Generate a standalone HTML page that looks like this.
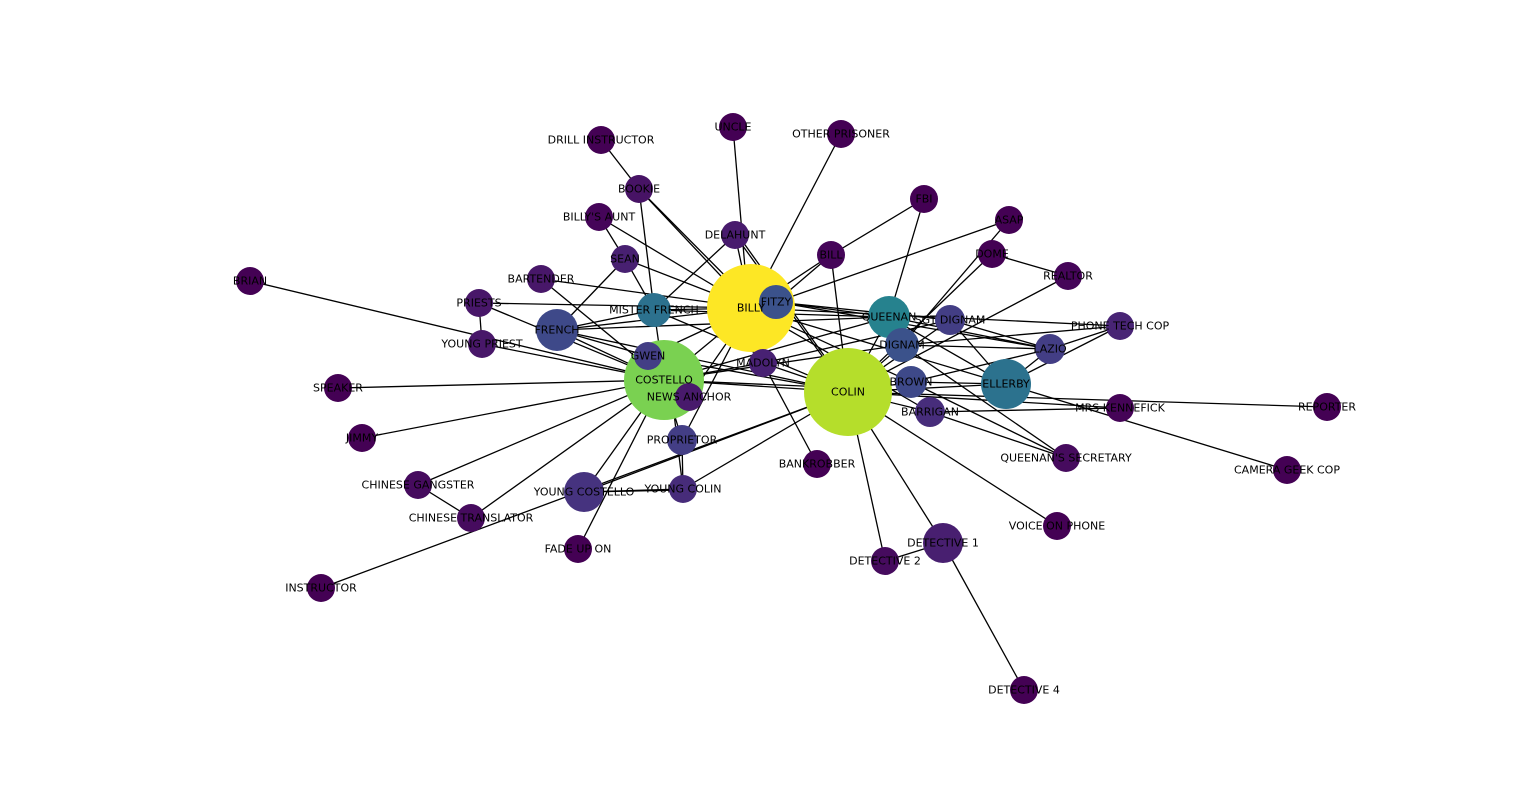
<!DOCTYPE html>
<html><head><meta charset="utf-8"><style>
html,body{margin:0;padding:0;background:#fff;width:1540px;height:811px;overflow:hidden}
text{font-family:"DejaVu Sans","Liberation Sans",sans-serif;font-size:11px;fill:#000;text-anchor:middle;dominant-baseline:central}
line{stroke:#000;stroke-width:1.3}
</style></head><body>
<svg width="1540" height="811" viewBox="0 0 1540 811" xmlns="http://www.w3.org/2000/svg">
<g>
<line x1="733" y1="127" x2="745" y2="268"/>
<line x1="841" y1="134" x2="770" y2="270"/>
<line x1="601" y1="140" x2="639" y2="189"/>
<line x1="639" y1="189" x2="751" y2="308"/>
<line x1="639" y1="189" x2="755" y2="306"/>
<line x1="639" y1="189" x2="654" y2="310"/>
<line x1="599" y1="217" x2="625" y2="259"/>
<line x1="599" y1="217" x2="751" y2="308"/>
<line x1="625" y1="259" x2="751" y2="308"/>
<line x1="625" y1="259" x2="654" y2="310"/>
<line x1="625" y1="259" x2="557" y2="330"/>
<line x1="735" y1="235" x2="654" y2="310"/>
<line x1="735" y1="235" x2="751" y2="308"/>
<line x1="735" y1="235" x2="848" y2="392"/>
<line x1="738" y1="235" x2="850" y2="392"/>
<line x1="541" y1="279" x2="751" y2="308"/>
<line x1="541" y1="279" x2="664" y2="380"/>
<line x1="479" y1="303" x2="751" y2="308"/>
<line x1="479" y1="303" x2="482" y2="344"/>
<line x1="479" y1="303" x2="664" y2="380"/>
<line x1="250" y1="281" x2="664" y2="380"/>
<line x1="482" y1="344" x2="664" y2="380"/>
<line x1="557" y1="330" x2="751" y2="308"/>
<line x1="557" y1="330" x2="654" y2="310"/>
<line x1="557" y1="330" x2="664" y2="380"/>
<line x1="557" y1="330" x2="848" y2="392"/>
<line x1="557" y1="330" x2="648" y2="356"/>
<line x1="557" y1="330" x2="889" y2="317"/>
<line x1="654" y1="310" x2="751" y2="308"/>
<line x1="654" y1="310" x2="664" y2="380"/>
<line x1="654" y1="310" x2="848" y2="392"/>
<line x1="654" y1="310" x2="889" y2="317"/>
<line x1="648" y1="356" x2="751" y2="308"/>
<line x1="648" y1="356" x2="848" y2="392"/>
<line x1="831" y1="255" x2="751" y2="308"/>
<line x1="831" y1="255" x2="776" y2="302"/>
<line x1="831" y1="255" x2="924" y2="199"/>
<line x1="831" y1="255" x2="848" y2="392"/>
<line x1="924" y1="199" x2="889" y2="317"/>
<line x1="1009" y1="220" x2="776" y2="302"/>
<line x1="1009" y1="220" x2="902" y2="345"/>
<line x1="992" y1="254" x2="1068" y2="276"/>
<line x1="992" y1="254" x2="848" y2="392"/>
<line x1="1068" y1="276" x2="848" y2="392"/>
<line x1="776" y1="302" x2="889" y2="317"/>
<line x1="776" y1="302" x2="1050" y2="349"/>
<line x1="776" y1="302" x2="950" y2="320"/>
<line x1="751" y1="308" x2="1120" y2="326"/>
<line x1="889" y1="317" x2="664" y2="380"/>
<line x1="889" y1="317" x2="848" y2="392"/>
<line x1="889" y1="317" x2="1006" y2="384"/>
<line x1="889" y1="317" x2="1050" y2="349"/>
<line x1="950" y1="320" x2="848" y2="392"/>
<line x1="950" y1="320" x2="1006" y2="384"/>
<line x1="950" y1="320" x2="1050" y2="349"/>
<line x1="950" y1="320" x2="763" y2="363"/>
<line x1="902" y1="345" x2="664" y2="380"/>
<line x1="902" y1="345" x2="1050" y2="349"/>
<line x1="902" y1="345" x2="1120" y2="326"/>
<line x1="902" y1="345" x2="1066" y2="458"/>
<line x1="902" y1="345" x2="848" y2="392"/>
<line x1="911" y1="382" x2="848" y2="392"/>
<line x1="911" y1="382" x2="1050" y2="349"/>
<line x1="911" y1="382" x2="1006" y2="384"/>
<line x1="911" y1="382" x2="751" y2="308"/>
<line x1="911" y1="382" x2="1066" y2="458"/>
<line x1="930" y1="412" x2="1120" y2="408"/>
<line x1="930" y1="412" x2="848" y2="392"/>
<line x1="930" y1="412" x2="751" y2="308"/>
<line x1="930" y1="412" x2="1066" y2="458"/>
<line x1="1006" y1="384" x2="848" y2="392"/>
<line x1="1006" y1="384" x2="1050" y2="349"/>
<line x1="1006" y1="384" x2="1120" y2="326"/>
<line x1="1006" y1="384" x2="1287" y2="470"/>
<line x1="1006" y1="384" x2="751" y2="308"/>
<line x1="848" y1="392" x2="1120" y2="408"/>
<line x1="1050" y1="349" x2="1120" y2="326"/>
<line x1="848" y1="392" x2="1327" y2="407"/>
<line x1="848" y1="392" x2="1057" y2="526"/>
<line x1="848" y1="392" x2="943" y2="543"/>
<line x1="848" y1="392" x2="885" y2="561"/>
<line x1="943" y1="543" x2="885" y2="561"/>
<line x1="943" y1="543" x2="1024" y2="690"/>
<line x1="763" y1="363" x2="817" y2="464"/>
<line x1="763" y1="363" x2="848" y2="392"/>
<line x1="763" y1="363" x2="751" y2="308"/>
<line x1="763" y1="363" x2="664" y2="380"/>
<line x1="664" y1="380" x2="338" y2="388"/>
<line x1="664" y1="380" x2="362" y2="438"/>
<line x1="664" y1="380" x2="418" y2="485"/>
<line x1="664" y1="380" x2="471" y2="518"/>
<line x1="664" y1="380" x2="584" y2="492"/>
<line x1="664" y1="380" x2="578" y2="549"/>
<line x1="664" y1="380" x2="682" y2="440"/>
<line x1="670" y1="380" x2="683" y2="489"/>
<line x1="664" y1="380" x2="848" y2="392"/>
<line x1="664" y1="380" x2="848" y2="388"/>
<line x1="664" y1="380" x2="751" y2="308"/>
<line x1="418" y1="485" x2="471" y2="518"/>
<line x1="321" y1="588" x2="848" y2="392"/>
<line x1="584" y1="492" x2="848" y2="392"/>
<line x1="584" y1="492" x2="683" y2="489"/>
<line x1="584" y1="492" x2="683" y2="490"/>
<line x1="683" y1="489" x2="848" y2="392"/>
<line x1="683" y1="489" x2="682" y2="440"/>
<line x1="682" y1="440" x2="751" y2="308"/>
<line x1="689" y1="397" x2="751" y2="308"/>
</g>
<g>
<circle cx="751" cy="308" r="44" fill="#fde725"/>
<circle cx="848" cy="392" r="44" fill="#b5de2b"/>
<circle cx="664" cy="380" r="40" fill="#7ad151"/>
<circle cx="776" cy="302" r="17" fill="#3b528b"/>
<circle cx="889" cy="317" r="21" fill="#26828e"/>
<circle cx="1006" cy="384" r="25" fill="#2c728e"/>
<circle cx="654" cy="310" r="17" fill="#2c718e"/>
<circle cx="557" cy="330" r="21" fill="#3e4989"/>
<circle cx="902" cy="345" r="17" fill="#3b528b"/>
<circle cx="911" cy="382" r="16" fill="#3e4989"/>
<circle cx="648" cy="356" r="14" fill="#433e85"/>
<circle cx="950" cy="320" r="15" fill="#433e85"/>
<circle cx="1050" cy="349" r="15" fill="#433e85"/>
<circle cx="584" cy="492" r="20" fill="#46337f"/>
<circle cx="682" cy="440" r="15" fill="#433e85"/>
<circle cx="943" cy="543" r="20" fill="#481f70"/>
<circle cx="763" cy="363" r="14" fill="#482173"/>
<circle cx="689" cy="397" r="14" fill="#481a6c"/>
<circle cx="930" cy="412" r="15" fill="#472d7b"/>
<circle cx="683" cy="489" r="14" fill="#472c7a"/>
<circle cx="1066" cy="458" r="14" fill="#460b5e"/>
<circle cx="1120" cy="326" r="14" fill="#482475"/>
<circle cx="1120" cy="408" r="14" fill="#450457"/>
<circle cx="735" cy="235" r="14" fill="#481b6d"/>
<circle cx="625" cy="259" r="14" fill="#482071"/>
<circle cx="541" cy="279" r="14" fill="#481769"/>
<circle cx="479" cy="303" r="14" fill="#481769"/>
<circle cx="482" cy="344" r="14" fill="#481769"/>
<circle cx="639" cy="189" r="14" fill="#471365"/>
<circle cx="599" cy="217" r="14" fill="#450559"/>
<circle cx="601" cy="140" r="14" fill="#440154"/>
<circle cx="733" cy="127" r="14" fill="#440154"/>
<circle cx="841" cy="134" r="14" fill="#440154"/>
<circle cx="924" cy="199" r="14" fill="#440154"/>
<circle cx="1009" cy="220" r="14" fill="#440154"/>
<circle cx="992" cy="254" r="14" fill="#440154"/>
<circle cx="1068" cy="276" r="14" fill="#450559"/>
<circle cx="831" cy="255" r="14" fill="#450559"/>
<circle cx="250" cy="281" r="14" fill="#440154"/>
<circle cx="338" cy="388" r="14" fill="#440154"/>
<circle cx="362" cy="438" r="14" fill="#440154"/>
<circle cx="418" cy="485" r="14" fill="#460b5e"/>
<circle cx="471" cy="518" r="14" fill="#460b5e"/>
<circle cx="321" cy="588" r="14" fill="#440154"/>
<circle cx="578" cy="549" r="14" fill="#440154"/>
<circle cx="817" cy="464" r="14" fill="#440154"/>
<circle cx="885" cy="561" r="14" fill="#460b5e"/>
<circle cx="1024" cy="690" r="14" fill="#440154"/>
<circle cx="1057" cy="526" r="14" fill="#440154"/>
<circle cx="1327" cy="407" r="14" fill="#440154"/>
<circle cx="1287" cy="470" r="14" fill="#440154"/>
</g>
<g>
<text x="751" y="308">BILLY</text>
<text x="848" y="392">COLIN</text>
<text x="664" y="380">COSTELLO</text>
<text x="776" y="302">FITZY</text>
<text x="889" y="317">QUEENAN</text>
<text x="1006" y="384">ELLERBY</text>
<text x="654" y="310">MISTER FRENCH</text>
<text x="557" y="330">FRENCH</text>
<text x="902" y="345">DIGNAM</text>
<text x="911" y="382">BROWN</text>
<text x="648" y="356">GWEN</text>
<text x="950" y="320">SGT DIGNAM</text>
<text x="1050" y="349">LAZIO</text>
<text x="584" y="492">YOUNG COSTELLO</text>
<text x="682" y="440">PROPRIETOR</text>
<text x="943" y="543">DETECTIVE 1</text>
<text x="763" y="363">MADOLYN</text>
<text x="689" y="397">NEWS ANCHOR</text>
<text x="930" y="412">BARRIGAN</text>
<text x="683" y="489">YOUNG COLIN</text>
<text x="1066" y="458">QUEENAN'S SECRETARY</text>
<text x="1120" y="326">PHONE TECH COP</text>
<text x="1120" y="408">MRS KENNEFICK</text>
<text x="735" y="235">DELAHUNT</text>
<text x="625" y="259">SEAN</text>
<text x="541" y="279">BARTENDER</text>
<text x="479" y="303">PRIESTS</text>
<text x="482" y="344">YOUNG PRIEST</text>
<text x="639" y="189">BOOKIE</text>
<text x="599" y="217">BILLY'S AUNT</text>
<text x="601" y="140">DRILL INSTRUCTOR</text>
<text x="733" y="127">UNCLE</text>
<text x="841" y="134">OTHER PRISONER</text>
<text x="924" y="199">FBI</text>
<text x="1009" y="220">ASAP</text>
<text x="992" y="254">DOME</text>
<text x="1068" y="276">REALTOR</text>
<text x="831" y="255">BILL</text>
<text x="250" y="281">BRIAN</text>
<text x="338" y="388">SPEAKER</text>
<text x="362" y="438">JIMMY</text>
<text x="418" y="485">CHINESE GANGSTER</text>
<text x="471" y="518">CHINESE TRANSLATOR</text>
<text x="321" y="588">INSTRUCTOR</text>
<text x="578" y="549">FADE UP ON</text>
<text x="817" y="464">BANKROBBER</text>
<text x="885" y="561">DETECTIVE 2</text>
<text x="1024" y="690">DETECTIVE 4</text>
<text x="1057" y="526">VOICE ON PHONE</text>
<text x="1327" y="407">REPORTER</text>
<text x="1287" y="470">CAMERA GEEK COP</text>
</g>
</svg>
</body></html>
